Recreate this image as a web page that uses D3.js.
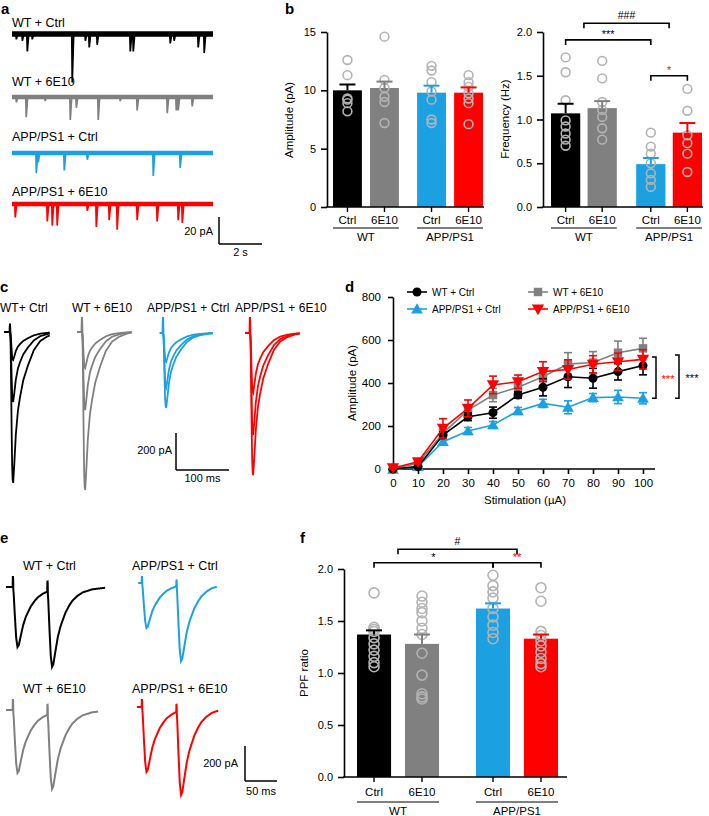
<!DOCTYPE html>
<html><head><meta charset="utf-8">
<script src="https://cdn.jsdelivr.net/npm/d3@7"></script>
<style>
body{margin:0;background:#fff}
svg{display:block;font-family:"Liberation Sans",Arial,Helvetica,sans-serif}
</style></head>
<body><svg id="fig" width="709" height="816"></svg>
<script>
// ================= DATA =================
const seriesNames = ["WT + Ctrl","WT + 6E10","APP/PS1 + Ctrl","APP/PS1 + 6E10"];
const seriesColors = ["#000000","#808080","#1ba1e2","#ff0000"];
const condLabels = ["Ctrl","6E10","Ctrl","6E10"];
const groupLabels = ["WT","APP/PS1"];

// (a) spontaneous events: [time s, amplitude pA]
const aDuration = 9.35;
const aEventsWTCtrl = [[0.19,4],[0.47,5],[0.70,13],[0.93,4],[2.79,36],[3.40,5],[3.58,10],[3.95,8],[5.49,13],[5.63,13],[7.35,7],[7.53,5],[8.65,10],[8.93,14]];
const aEventsWT6E10 = [[0.19,4],[0.65,15],[1.53,3],[2.70,17],[2.98,8],[4.00,17],[5.02,3],[5.81,10],[7.21,12],[7.63,10],[7.72,10],[8.37,7]];
const aEventsAPPCtrl = [[1.12,15],[1.21,7],[2.42,13],[3.49,5],[6.56,17],[7.81,11]];
const aEventsAPP6E10 = [[0.14,10],[1.63,13],[1.86,16],[2.09,16],[3.49,5],[3.91,17],[4.51,12],[4.88,19],[5.81,12],[6.74,13],[7.72,12],[7.91,14]];
const aScalePA = 20, aScaleS = 2;

// (b) amplitude & frequency
const ampTicks = [0,5,10,15];
const ampMean = [10.0,10.2,9.8,9.8];
const ampSem = [0.5,0.55,0.6,0.45];
const ampPts = [[12.6,11.3,9.3,9.2,8.9,8.2],[14.6,10.9,10.2,9.45,9.0,7.2],[12.1,11.7,10.7,9.9,9.2,7.5,7.2],[11.3,10.7,10.3,9.75,9.3,8.9,7.1]];
const freqTicks = [0,0.5,1.0,1.5,2.0];
const freqMean = [1.07,1.13,0.49,0.85];
const freqSem = [0.11,0.08,0.07,0.11];
const freqPts = [[1.71,1.54,1.22,0.99,0.92,0.84,0.77,0.70],[1.67,1.47,1.20,1.11,1.03,0.90,0.77],[0.85,0.69,0.61,0.50,0.385,0.31,0.23],[1.35,1.10,0.82,0.73,0.61,0.40]];
const freqSig = [{a:0.5,b:2.5,y:2.10,t:"###",c:"#000"},{a:0,b:2,y:1.91,t:"***",c:"#000"},{a:2,b:3,y:1.50,t:"*",c:"#ff0000"}];

// EPSC templates (ms after stimulus, normalised amplitude)
const cTmplT = [0,1,2,3,4,5,6,8,11,15,19,25,34,45,57,70,85,100];
const cTmplV = [0,0.05,0.3,0.62,0.88,0.98,1.0,0.88,0.68,0.52,0.43,0.32,0.22,0.12,0.06,0.03,0.01,0];
const eTmplT = [0,1,3,5,7,9,12,16,20,23,28,34,39,47,55,70,90,110];
const eTmplV = [0,0.1,0.5,0.85,1.0,0.97,0.82,0.63,0.5,0.43,0.32,0.23,0.17,0.11,0.07,0.03,0.01,0];

// (c) input-output example traces (peak pA)
const cAmps = [[151,378,816],[195,422,854],[157,297,405],[324,551,768]];
const cArtifact = [40,75,80,80];
const cWindow = [[-11,75],[-9,94],[-6,94],[-9,94]];
const cTitles = ["WT+ Ctrl","WT + 6E10","APP/PS1 + Ctrl","APP/PS1 + 6E10"];

// (d) input-output curves
const stim = [0,10,20,30,40,50,60,70,80,90,100];
const dWTCtrl = [0,11,158,243,262,344,380,429,422,453,481];
const dWTCtrlErr = [3,5,15,18,26,15,40,50,46,39,43];
const dWT6E10 = [0,27,166,274,344,380,429,488,495,541,561];
const dWT6E10Err = [3,8,20,20,31,20,23,53,51,54,47];
const dAPPCtrl = [-2,11,127,177,205,270,305,287,332,335,329];
const dAPPCtrlErr = [3,5,10,16,16,16,19,30,19,31,26];
const dAPP6E10 = [5,34,189,282,391,406,453,463,487,499,510];
const dAPP6E10Err = [5,10,45,39,41,31,46,45,40,40,45];
const dTicksY = [0,200,400,600,800];
const dSigRed = [521,329], dSigBlack = [530,329];

// (e) paired-pulse traces (peak pA of 1st and 2nd responses)
const ePeaks = [[343,457],[360,451],[257,446],[371,503]];
const eArtifact = [57,57,34,40];
const eWindow = [[-11,144],[-11,133],[-6,117],[-8,119]];
const eIPI = 54;

// (f) PPF ratio
const ppfTicks = [0,0.5,1.0,1.5,2.0];
const ppfMean = [1.37,1.28,1.62,1.33];
const ppfSem = [0.04,0.09,0.05,0.04];
const ppfPts = [[1.77,1.44,1.42,1.40,1.34,1.28,1.22,1.16,1.10,1.06],[1.74,1.68,1.62,1.58,1.50,1.43,1.37,1.19,0.98,0.80,0.77,0.75],[1.94,1.84,1.78,1.72,1.62,1.54,1.46,1.39,1.33],[1.82,1.69,1.40,1.36,1.31,1.26,1.20,1.14,1.09,1.06]];
const ppfSig = [{a:0.5,b:2.5,y:2.19,t:"#",c:"#000"},{a:0,b:2,y:2.06,t:"*",c:"#000"},{a:2,b:3,y:2.06,t:"**",c:"#ff0000"}];

// ================= DRAWING =================
const svg = d3.select("#fig");
const CIRC = "#b3b3b3";
function text(x,y,s,o={}){
  const t = svg.append("text").attr("x",x).attr("y",y).text(s)
    .attr("font-size",o.size||11).attr("fill",o.fill||"#000")
    .attr("text-anchor",o.anchor||"start");
  if(o.bold) t.attr("font-weight","bold");
  return t;
}
function panel(l,x,y){ text(x,y,l,{size:15,bold:true}); }
function line(x1,y1,x2,y2,c="#000",w=1.5){
  svg.append("line").attr("x1",x1).attr("y1",y1).attr("x2",x2).attr("y2",y2).attr("stroke",c).attr("stroke-width",w);
}
function makeT(ts,vs){
  const s = d3.scaleLinear().domain(ts).range(vs).clamp(true);
  const end = ts[ts.length-1];
  return t => (t<=0||t>=end)?0:s(t);
}
const Tc = makeT(cTmplT,cTmplV);
const Te = makeT(eTmplT,eTmplV);

// ---------- a ----------
panel("a",1,14);
{
  const aX = d3.scaleLinear().domain([0,aDuration]).range([12,213]);
  const aY = d3.scaleLinear().domain([0,aScalePA]).range([0,27]);
  const base = [34,97,153,204], labY=[27,86,141,196];
  const evs = [aEventsWTCtrl,aEventsWT6E10,aEventsAPPCtrl,aEventsAPP6E10];
  evs.forEach((ev,i)=>{
    const c = seriesColors[i];
    text(12,labY[i],seriesNames[i],{size:12.5});
    svg.append("line").attr("x1",aX(0)).attr("x2",aX(aDuration)).attr("y1",base[i]).attr("y2",base[i])
      .attr("stroke",c).attr("stroke-width",i===0?5.5:4.5);
    const pts=[[0,0]];
    ev.forEach(([t,a])=>pts.push([t-0.01,0],[t+0.012,a],[t+0.08,0]));
    pts.push([aDuration,0]);
    svg.append("path").attr("d",d3.line().x(d=>aX(d[0])).y(d=>base[i]+aY(d[1]))(pts))
      .attr("fill","none").attr("stroke",c).attr("stroke-width",1.7);
  });
  const sx=219, sy=244;
  line(sx,sy-aY(aScalePA),sx,sy); line(sx,sy,sx+aX(aScaleS)-aX(0),sy);
  text(213,235,aScalePA+" pA",{anchor:"end"});
  text(sx+(aX(aScaleS)-aX(0))/2,256,aScaleS+" s",{anchor:"middle"});
}

// ---------- bar chart helper ----------
function barChart(o){
  const y = d3.scaleLinear().domain([0,o.max]).range([o.yBot,o.yTop]);
  const xs = d3.scaleLinear().domain([-o.w/2,3+o.gap+o.w/2]).range([o.left,o.right]);
  const pos = i => xs(i+(i>=2?o.gap:0));
  const bw = xs(o.w)-xs(0);
  o.means.forEach((m,i)=>{
    svg.append("rect").attr("x",pos(i)-bw/2).attr("y",y(m)).attr("width",bw).attr("height",y(0)-y(m)).attr("fill",seriesColors[i]);
  });
  o.pts.forEach((arr,i)=>arr.forEach(v=>{
    svg.append("circle").attr("cx",pos(i)).attr("cy",y(v)).attr("r",o.r).attr("fill","none").attr("stroke",CIRC).attr("stroke-width",1.6);
  }));
  o.means.forEach((m,i)=>{
    const c=seriesColors[i];
    line(pos(i),y(m),pos(i),y(m+o.sems[i]),c,2);
    line(pos(i)-8,y(m+o.sems[i]),pos(i)+8,y(m+o.sems[i]),c,2);
  });
  const ya = svg.append("g").attr("transform",`translate(${o.axisX},0)`)
    .call(d3.axisLeft(y).tickValues(o.ticks).tickFormat(o.fmt).tickSize(6).tickSizeOuter(0).tickPadding(5));
  ya.selectAll("path,line").attr("stroke-width",1.6);
  ya.selectAll("text").attr("font-size",11).attr("font-family",null);
  line(o.axisX-0.8,y(0),o.axisEnd,y(0),"#000",1.6);
  o.means.forEach((m,i)=>{
    line(pos(i),y(0),pos(i),y(0)+5,"#000",1.4);
    text(pos(i),y(0)+o.lab,condLabels[i],{anchor:"middle",size:11.5});
  });
  [[0,1],[2,3]].forEach((g,k)=>{
    const x1=pos(g[0])-bw/2, x2=pos(g[1])+bw/2;
    line(x1,y(0)+o.ul,x2,y(0)+o.ul,"#000",1);
    text((x1+x2)/2,y(0)+o.gl,groupLabels[k],{anchor:"middle",size:11.5});
  });
  svg.append("text").attr("transform",`translate(${o.ylx},${o.yly}) rotate(-90)`).attr("dy","0.35em")
    .attr("text-anchor","middle").attr("font-size",11.5).text(o.ylabel);
  (o.sig||[]).forEach(s=>{
    const xa = s.a%1 ? (pos(Math.floor(s.a))+pos(Math.ceil(s.a)))/2 : pos(s.a);
    const xb = s.b%1 ? (pos(Math.floor(s.b))+pos(Math.ceil(s.b)))/2 : pos(s.b);
    const yy = y(s.y);
    svg.append("path").attr("d",`M${xa},${yy+5}V${yy}H${xb}V${yy+5}`).attr("fill","none").attr("stroke","#000").attr("stroke-width",1.6);
    const isStar = s.t.indexOf("*")>=0;
    text((xa+xb)/2,yy-(isStar?1.5:4),s.t,{anchor:"middle",size:isStar?11:10.5,fill:s.c});
  });
  return y;
}

// ---------- b ----------
panel("b",285,14);
barChart({left:333,right:483,w:0.78,gap:0.27,axisX:327,axisEnd:484,yTop:32,yBot:207,max:15,
  ticks:ampTicks,fmt:d3.format("d"),means:ampMean,sems:ampSem,pts:ampPts,r:4.4,
  lab:17,ul:21,gl:34,ylabel:"Amplitude (pA)",ylx:289,yly:120});
barChart({left:551,right:702,w:0.8,gap:0.33,axisX:543,axisEnd:703,yTop:32,yBot:207,max:2,
  ticks:freqTicks,fmt:d3.format(".1f"),means:freqMean,sems:freqSem,pts:freqPts,r:4.4,
  lab:17,ul:21,gl:34,ylabel:"Frequency (Hz)",ylx:505,yly:119,sig:freqSig});

// ---------- c ----------
panel("c",0,292);
{
  const cX = d3.scaleLinear().domain([0,100]).range([0,53]);
  const cY = d3.scaleLinear().domain([0,200]).range([0,37]);
  const artX=[10,82,163,250], base=[332,332,333,333], titleX=[0,72,147,235];
  cAmps.forEach((amps,i)=>{
    text(titleX[i],312,cTitles[i],{size:12});
    amps.forEach(a=>{
      const pts = d3.range(cWindow[i][0],cWindow[i][1]+0.001,0.25).map(t=>{
        const v = a*Tc(t) - (Math.abs(t)<0.3?cArtifact[i]:0);
        return [artX[i]+cX(t), base[i]+cY(v)];
      });
      svg.append("path").attr("d",d3.line()(pts)).attr("fill","none").attr("stroke",seriesColors[i]).attr("stroke-width",1.8);
    });
  });
  const sx=176, sy=470;
  line(sx,sy-cY(200),sx,sy); line(sx,sy,sx+cX(100),sy);
  text(172,454,"200 pA",{anchor:"end"});
  text(sx+cX(100)/2,482,"100 ms",{anchor:"middle"});
}

// ---------- d ----------
panel("d",345,292);
{
  const dX = d3.scaleLinear().domain([0,100]).range([393,643]);
  const dY = d3.scaleLinear().domain([0,800]).range([469,297]);
  const ya = svg.append("g").attr("transform","translate(393,0)")
    .call(d3.axisLeft(dY).tickValues(dTicksY).tickSize(5).tickSizeOuter(0).tickPadding(7));
  const xa = svg.append("g").attr("transform","translate(0,469)")
    .call(d3.axisBottom(dX).tickValues(stim).tickSize(5).tickSizeOuter(0).tickPadding(5));
  xa.select(".domain").remove();
  line(392.2,469,655,469,"#000",1.6);
  [ya,xa].forEach(a=>{a.selectAll("path,line").attr("stroke-width",1.6);a.selectAll("text").attr("font-size",11.5).attr("font-family",null);});
  text(525,504,"Stimulation (\u00b5A)",{anchor:"middle",size:11.5});
  svg.append("text").attr("transform","translate(352,383) rotate(-90)").attr("dy","0.35em")
    .attr("text-anchor","middle").attr("font-size",11.5).text("Amplitude (pA)");
  const sym = [d3.symbol(d3.symbolCircle,64),d3.symbol(d3.symbolSquare,72),d3.symbol(d3.symbolTriangle,60),d3.symbol(d3.symbolTriangle,66)];
  const rot = [0,0,0,180];
  const series = [[dWTCtrl,dWTCtrlErr],[dWT6E10,dWT6E10Err],[dAPPCtrl,dAPPCtrlErr],[dAPP6E10,dAPP6E10Err]];
  const order=[2,1,0,3];
  order.forEach(i=>{
    const [vals,errs]=series[i], c=seriesColors[i];
    svg.append("path").attr("d",d3.line().x((d,k)=>dX(stim[k])).y(d=>dY(d))(vals)).attr("fill","none").attr("stroke",c).attr("stroke-width",1.6);
    vals.forEach((v,k)=>{
      const x=dX(stim[k]);
      line(x,dY(v-errs[k]),x,dY(v+errs[k]),c,1.6);
      line(x-4,dY(v-errs[k]),x+4,dY(v-errs[k]),c,1.6);
      line(x-4,dY(v+errs[k]),x+4,dY(v+errs[k]),c,1.6);
      svg.append("path").attr("d",sym[i]()).attr("transform",`translate(${x},${dY(v)+(i===2?1:i===3?-1:0)}) rotate(${rot[i]})`).attr("fill",c);
    });
  });
  const lg=[[407,292],[528,292],[407,309],[528,309]];
  [0,1,2,3].forEach(i=>{
    const [lx,ly]=lg[i];
    line(lx,ly,lx+20,ly,seriesColors[i],1.6);
    svg.append("path").attr("d",sym[i]()).attr("transform",`translate(${lx+10},${ly+(i===2?1:i===3?-1:0)}) rotate(${rot[i]})`).attr("fill",seriesColors[i]);
    text(lx+25,ly+3.5,seriesNames[i],{size:10});
  });
  [[dSigRed,656,"#ff0000",668],[dSigBlack,679,"#000000",692]].forEach(([r,x,c,tx])=>{
    svg.append("path").attr("d",`M${x-4},${dY(r[0])}H${x}V${dY(r[1])}H${x-4}`).attr("fill","none").attr("stroke","#000").attr("stroke-width",1.5);
    text(tx,(dY(r[0])+dY(r[1]))/2+5,"***",{anchor:"middle",size:11,fill:c});
  });
}

// ---------- e ----------
panel("e",0,543);
{
  const eX = d3.scaleLinear().domain([0,50]).range([0,32]);
  const eY = d3.scaleLinear().domain([0,200]).range([0,35]);
  const artX=[13,13,142,142], base=[587,710,583,707];
  const titlePos=[[23,570],[23,693],[132,570],[132,693]];
  ePeaks.forEach((p,i)=>{
    text(titlePos[i][0],titlePos[i][1],seriesNames[i],{size:12.5});
    const a1=p[0], a2=p[1]-a1*Te(eIPI+7);
    const pts = d3.range(eWindow[i][0],eWindow[i][1]+0.001,0.25).map(t=>{
      let v = a1*Te(t)+a2*Te(t-eIPI);
      if(Math.abs(t)<0.3||Math.abs(t-eIPI)<0.3) v -= eArtifact[i];
      return [artX[i]+eX(t), base[i]+eY(v)];
    });
    svg.append("path").attr("d",d3.line()(pts)).attr("fill","none").attr("stroke",seriesColors[i]).attr("stroke-width",2);
  });
  const sx=245, sy=781;
  line(sx,sy-eY(200),sx,sy); line(sx,sy,sx+eX(50),sy);
  text(238,767,"200 pA",{anchor:"end"});
  text(sx+eX(50)/2,795,"50 ms",{anchor:"middle"});
}

// ---------- f ----------
panel("f",300,543);
barChart({left:357,right:558,w:0.71,gap:0.48,axisX:344,axisEnd:567,yTop:569,yBot:777,max:2,
  ticks:ppfTicks,fmt:d3.format(".1f"),means:ppfMean,sems:ppfSem,pts:ppfPts,r:5,
  lab:19,ul:25,gl:38,ylabel:"PPF ratio",ylx:304,yly:673,sig:ppfSig});
</script></body></html>
